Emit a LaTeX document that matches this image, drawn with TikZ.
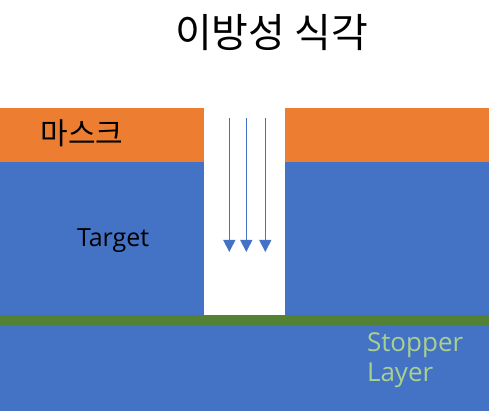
\documentclass[tikz,border=0pt]{standalone}
\usepackage{fontspec}
\setmainfont{Open Sans}
\newfontfamily\kor{Noto Sans CJK KR}
\usetikzlibrary{arrows.meta}
\definecolor{morange}{HTML}{ED7D31}
\definecolor{mblue}{HTML}{4472C4}
\definecolor{mgreen}{HTML}{548235}
\definecolor{mlgreen}{HTML}{A9D18E}
\tikzset{
  layer/.style={fill=#1, draw=none},
  beam/.style={draw=mblue, line width=1pt, -{Triangle[width=12pt,length=12pt]}},
  lbl/.style={inner sep=0pt, outer sep=0pt}
}
\begin{document}
\begin{tikzpicture}[x=1pt,y=-1pt]
\useasboundingbox (0,0) rectangle (489,411);
\fill[white] (0,0) rectangle (489,411);
% layers
\fill[layer=morange] (0,108) rectangle (204,162);
\fill[layer=morange] (285,108) rectangle (489,162);
\fill[layer=mblue] (0,162) rectangle (204,315);
\fill[layer=mblue] (285,162) rectangle (489,315);
\fill[layer=mgreen] (0,315) rectangle (489,325);
\fill[layer=mblue] (0,325) rectangle (489,411);
% arrows
\coordinate (a1s) at (229.3,118); \coordinate (a1e) at (229.3,252);
\coordinate (a2s) at (246.3,118); \coordinate (a2e) at (246.3,252);
\coordinate (a3s) at (265.3,118); \coordinate (a3e) at (265.3,252);
\draw[beam] (a1s) -- (a1e);
\draw[beam] (a2s) -- (a2e);
\draw[beam] (a3s) -- (a3e);
% texts
\node[lbl] (title) at (271.5,33) {\kor\fontsize{40}{46}\selectfont 이방성 식각};
\node[lbl] (mask) at (82,133.5) {\kor\fontsize{30}{36}\selectfont 마스크};
\node[lbl, anchor=base west] (target) at (77,247) {\fontsize{25}{30}\selectfont Target};
\node[lbl, anchor=base west, text=mlgreen] (stop) at (367,351) {\fontsize{26}{30}\selectfont Stopper};
\node[lbl, anchor=base west, text=mlgreen] (layerlbl) at (367,381) {\fontsize{26}{30}\selectfont Layer};
\end{tikzpicture}
\end{document}
